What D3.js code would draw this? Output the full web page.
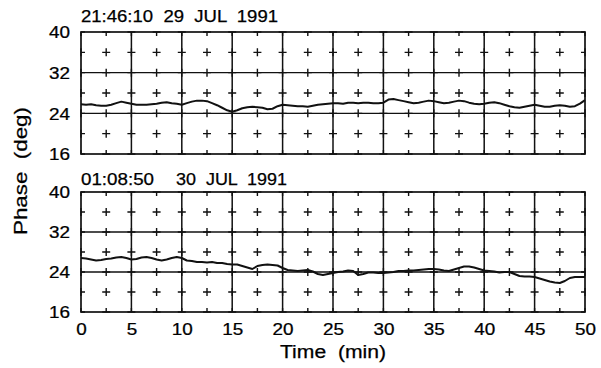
<!DOCTYPE html>
<html>
<head>
<meta charset="utf-8">
<script src="https://cdn.jsdelivr.net/npm/d3@7"></script>
<style>
  html, body { margin: 0; padding: 0; background: #fff; }
  svg { display: block; }
  text { font-family: "Liberation Sans", Arial, Helvetica, sans-serif; fill: #000; stroke: #000; stroke-width: 0.25px; }
</style>
</head>
<body>
<svg id="chart" width="601" height="368"></svg>
<script>
// Time axis (minutes), sampled every half minute
const timeMin = d3.range(0, 50.001, 0.5);

// Phase trace, run starting 21:46:10 29 JUL 1991 (deg)
const phaseRun1 = [
  25.8, 25.7, 25.8, 25.6, 25.5, 25.5, 25.7, 26.0, 26.3, 26.1,
  25.9, 25.7, 25.7, 25.7, 25.8, 25.9, 26.1, 26.2, 26.0, 25.9,
  25.7, 26.0, 26.3, 26.5, 26.5, 26.4, 26.0, 25.6, 25.1, 24.6,
  24.3, 24.6, 25.0, 25.2, 25.3, 25.2, 25.1, 24.8, 24.9, 25.4,
  25.7, 25.6, 25.5, 25.4, 25.4, 25.3, 25.5, 25.7, 25.8, 25.9,
  26.0, 26.0, 25.9, 26.1, 26.1, 26.0, 26.1, 26.1, 26.0, 26.0,
  26.1, 26.7, 26.8, 26.6, 26.4, 26.2, 26.0, 26.1, 26.3, 26.5,
  26.4, 26.2, 26.0, 26.1, 26.3, 26.5, 26.4, 26.1, 25.9, 25.8,
  25.9, 26.1, 26.2, 26.0, 25.7, 25.4, 25.2, 25.1, 25.3, 25.5,
  25.7, 25.5, 25.3, 25.3, 25.5, 25.6, 25.5, 25.3, 25.4, 25.9,
  26.6
];

// Phase trace, run starting 01:08:50 30 JUL 1991 (deg)
const phaseRun2 = [
  26.8, 26.7, 26.5, 26.3, 26.4, 26.6, 26.7, 26.9, 27.0, 26.8,
  26.5, 26.6, 26.9, 27.0, 26.8, 26.5, 26.3, 26.5, 26.8, 27.0,
  26.8, 26.3, 26.2, 26.0, 26.0, 25.9, 26.0, 25.8, 25.8, 25.6,
  25.5, 25.5, 25.2, 24.9, 24.6, 25.2, 25.4, 25.5, 25.4, 25.3,
  24.8, 24.4, 24.3, 24.2, 24.3, 24.4, 24.1, 23.6, 23.4, 23.6,
  23.8, 24.0, 24.1, 24.3, 24.2, 23.4, 23.6, 23.9, 23.9, 23.8,
  23.8, 23.9, 24.0, 24.2, 24.2, 24.3, 24.3, 24.4, 24.5, 24.6,
  24.6, 24.5, 24.3, 24.2, 24.5, 24.8, 25.1, 25.1, 24.9, 24.6,
  24.3, 24.2, 24.1, 23.9, 24.0, 24.0, 23.6, 23.2, 23.1, 23.1,
  23.0, 22.7, 22.4, 22.1, 21.9, 21.8, 22.2, 22.8, 23.0, 23.0,
  23.0
];

// Axis ticks and labels
const xTicks = [0, 5, 10, 15, 20, 25, 30, 35, 40, 45, 50];
const yTicks = [16, 24, 32, 40];
const xMarks = d3.range(0, 50.001, 2.5);
const yMarks = [16, 20, 24, 28, 32, 36, 40];
const panelTitles = [["21:46:10  29  JUL  1991"], ["01:08:50", "30  JUL  1991"]];
const xLabel = "Time  (min)";
const yLabel = "Phase  (deg)";

const svg = d3.select("#chart");
const left = 81, right = 585;
const panels = [
  { top: 32, bottom: 154, data: phaseRun1, title: panelTitles[0] },
  { top: 192, bottom: 312, data: phaseRun2, title: panelTitles[1] }
];
const stretch = 1.18;   // wide grotesque lettering

const x = d3.scaleLinear().domain([0, 50]).range([left, right]);

panels.forEach((p, i) => {
  const y = d3.scaleLinear().domain([16, 40]).range([p.bottom, p.top]);
  const g = svg.append("g");

  // vertical grid lines every 5 minutes
  g.selectAll("line.vg").data(xTicks.slice(1, -1)).join("line")
    .attr("x1", d => x(d)).attr("x2", d => x(d))
    .attr("y1", p.top).attr("y2", p.bottom)
    .attr("stroke", "#111").attr("stroke-width", 1.5);

  // horizontal grid lines at the labelled interior values
  g.selectAll("line.hg").data(yTicks.slice(1, -1)).join("line")
    .attr("x1", left).attr("x2", right)
    .attr("y1", d => y(d)).attr("y2", d => y(d))
    .attr("stroke", "#111").attr("stroke-width", 1.4);

  // plus-sign markers on the half-division lattice
  const crosses = [];
  xMarks.forEach(a => yMarks.forEach(b => crosses.push([a, b])));
  const cg = g.append("g").attr("stroke", "#111").attr("stroke-width", 1.4);
  cg.selectAll("path").data(crosses).join("path")
    .attr("d", d => {
      const cx = x(d[0]), cy = y(d[1]);
      const hx = 4, hy = 4;
      const x0 = Math.max(left, cx - hx), x1 = Math.min(right, cx + hx);
      const y0 = Math.max(p.top, cy - hy), y1 = Math.min(p.bottom, cy + hy);
      return `M${x0},${cy}H${x1}M${cx},${y0}V${y1}`;
    });

  // frame
  g.append("rect")
    .attr("x", left).attr("y", p.top)
    .attr("width", right - left).attr("height", p.bottom - p.top)
    .attr("fill", "none").attr("stroke", "#111").attr("stroke-width", 1.7);

  // phase trace
  const line = d3.line().x((d, k) => x(timeMin[k])).y(d => y(d));
  g.append("path").datum(p.data)
    .attr("d", line)
    .attr("fill", "none").attr("stroke", "#111").attr("stroke-width", 2)
    .attr("stroke-linejoin", "round");

  // y tick labels
  const ya = g.append("g").attr("transform", `translate(${left},0)`)
    .call(d3.axisLeft(y).tickValues(yTicks).tickSize(0).tickPadding(0));
  ya.select(".domain").remove();
  ya.selectAll("text")
    .attr("x", -11 / stretch)
    .attr("dy", "0.36em")
    .attr("transform", `scale(${stretch},1)`)
    .style("font-size", "16px")
    .style("font-family", "'Liberation Sans', Arial, sans-serif")
    .attr("fill", "#000");

  // run start time
  if (p.title.length === 1) {
    svg.append("text").attr("x", 81).attr("y", 22)
      .attr("textLength", 197).attr("lengthAdjust", "spacingAndGlyphs")
      .style("white-space", "pre").style("font-size", "16px")
      .text(p.title[0]);
  } else {
    svg.append("text").attr("x", 81).attr("y", 185)
      .attr("textLength", 73).attr("lengthAdjust", "spacingAndGlyphs")
      .style("font-size", "16px").text(p.title[0]);
    svg.append("text").attr("x", 176).attr("y", 185)
      .attr("textLength", 111).attr("lengthAdjust", "spacingAndGlyphs")
      .style("white-space", "pre").style("font-size", "16px")
      .text(p.title[1]);
  }

  // x tick labels only under the lower panel
  if (i === 1) {
    const xa = g.append("g").attr("transform", `translate(0,${p.bottom})`)
      .call(d3.axisBottom(x).tickValues(xTicks).tickSize(0).tickPadding(12));
    xa.select(".domain").remove();
    xa.selectAll(".tick text")
      .attr("transform", `scale(${stretch},1)`)
      .style("font-size", "16px")
      .style("font-family", "'Liberation Sans', Arial, sans-serif")
      .attr("fill", "#000");
  }
});

// axis titles
svg.append("text")
  .attr("x", 333).attr("y", 358)
  .attr("text-anchor", "middle")
  .attr("textLength", 106).attr("lengthAdjust", "spacingAndGlyphs")
  .style("white-space", "pre").style("font-size", "18px")
  .text(xLabel);

svg.append("text")
  .attr("transform", "translate(27,171) rotate(-90)")
  .attr("text-anchor", "middle")
  .attr("textLength", 128).attr("lengthAdjust", "spacingAndGlyphs")
  .style("white-space", "pre").style("font-size", "18px")
  .text(yLabel);
</script>
</body>
</html>
